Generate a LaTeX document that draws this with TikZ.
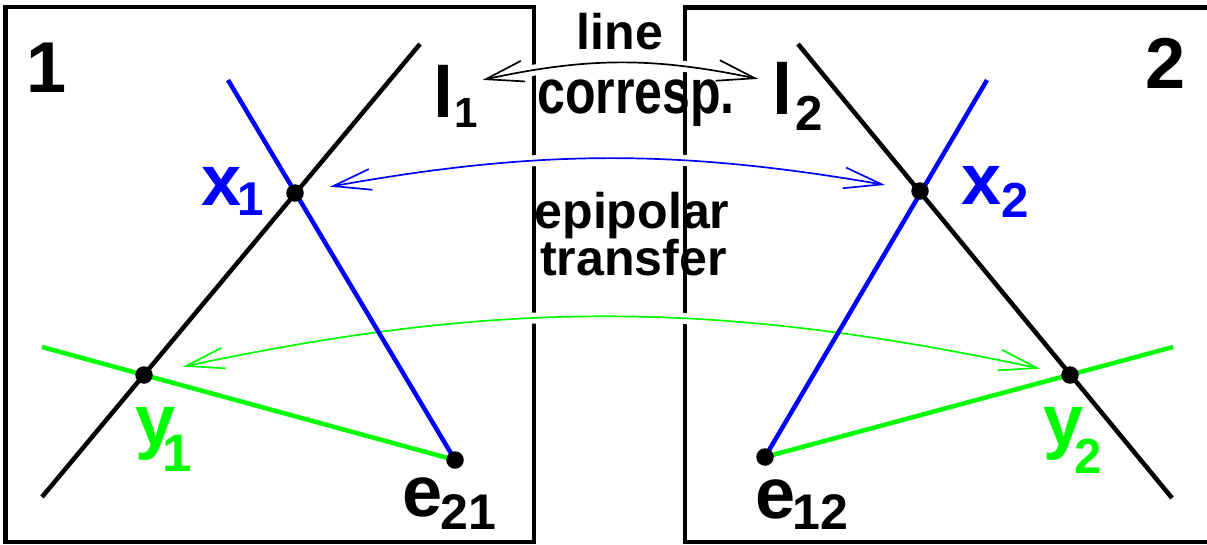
\documentclass[tikz,border=0pt]{standalone}
\usepackage{fontspec}
\setmainfont{Liberation Sans}
\usepackage{graphicx}
\usetikzlibrary{arrows.meta}
\definecolor{epiblue}{RGB}{0,0,255}
\definecolor{epigreen}{RGB}{0,255,0}
\pgfdeclarelayer{lines}
\pgfsetlayers{lines,main}
% subscript: kern, drop, size, text
\newcommand{\idx}[4]{\kern#1\raisebox{-#2}{\fontsize{#3}{#3}\selectfont #4}}

\begin{document}
\begin{tikzpicture}[
  x=0.2mm, y=-0.2mm,
  >={Straight Barb[length=7.6mm, width=4.2mm]},
  panel/.style={line width=0.95mm},
  ray/.style={line width=0.9mm},
  dot/.style={circle, fill=black, inner sep=0pt, minimum size=3.5mm},
  lab/.style={inner sep=0pt, anchor=base west, font=\fontsize{41}{41}\selectfont\bfseries},
  note/.style={inner sep=0pt, anchor=base, font=\fontsize{28.5}{28.5}\selectfont\bfseries},
  corr/.style={line width=0.34mm, <->, preaction={draw=white, line width=2.2mm, -}}
]
\useasboundingbox (0,0) rectangle (1207,545);

% points
\node[dot] (x1) at (295,193) {};
\node[dot] (y1) at (144,375) {};
\node[dot] (e21) at (455,460) {};
\node[dot] (x2) at (920,191) {};
\node[dot] (y2) at (1070,375) {};
\node[dot] (e12) at (765,457) {};

% labels
\node[lab] (n1) at (26,93) {1};
\node[lab] (n2) at (1145,88) {2};
\node[lab] (l1) at (433,118) {l\idx{0.3mm}{2mm}{24}{1}};
\node[lab] (l2) at (772,114) {l\idx{0.7mm}{3.2mm}{28}{2}};
\node[lab, epiblue] (x1lab) at (201,205) {x\idx{-0.8mm}{2mm}{27}{1}};
\node[lab, epiblue] (x2lab) at (961,204) {x\idx{0mm}{2.6mm}{28}{2}};
\node[lab, epigreen] (y1lab) at (135,445) {y\idx{-2.6mm}{5.2mm}{30}{1}};
\node[lab, epigreen] (y2lab) at (1043,445) {y\idx{-1.7mm}{5.6mm}{28}{2}};
\node[lab] (e21lab) at (402,516) {e\idx{-0.3mm}{2.6mm}{28.5}{21}};
\node[lab] (e12lab) at (755,518) {e\idx{-0.6mm}{2.2mm}{28.5}{12}};

\node[note] (line) at (620,50) {line};
\node[note] (resp) at (636,113) {\scalebox{1}[1.25]{corresp.}};
\node[note] (epi) at (632,228) {epipolar};
\node[note] (trans) at (633.5,275) {transfer};

\begin{pgfonlayer}{lines}
% frames
\draw[panel] (5.5,7) rectangle (534,542);
\draw[panel] (685,7.5) rectangle (1210,542);

% correspondences
\draw[corr] ([shift={(4,-17)}]l1.east) to[bend left=12] ([shift={(-14,-17)}]l2.west);
\draw[corr, epiblue, shorten <=5.3mm, shorten >=5.3mm] (x1) to[bend left=10] (x2);
\draw[corr, epigreen, shorten <=6.2mm, shorten >=4.3mm] (y1) to[bend left=12] (y2);

% image 1
\coordinate (a1) at (42,497);
\coordinate (a2) at (420,44);
\coordinate (b1) at (228,80);
\coordinate (g1) at (42,347);
\draw[ray] (a1) -- (a2);
\draw[ray, epiblue] (b1) -- (e21.center);
\draw[ray, epigreen] (g1) -- (e21.center);

% image 2
\coordinate (a3) at (798,44);
\coordinate (a4) at (1172,498);
\coordinate (b2) at (987,80);
\coordinate (g2) at (1173,347);
\draw[ray] (a3) -- (a4);
\draw[ray, epiblue] (b2) -- (e12.center);
\draw[ray, epigreen] (g2) -- (e12.center);
\end{pgfonlayer}

\end{tikzpicture}
\end{document}
